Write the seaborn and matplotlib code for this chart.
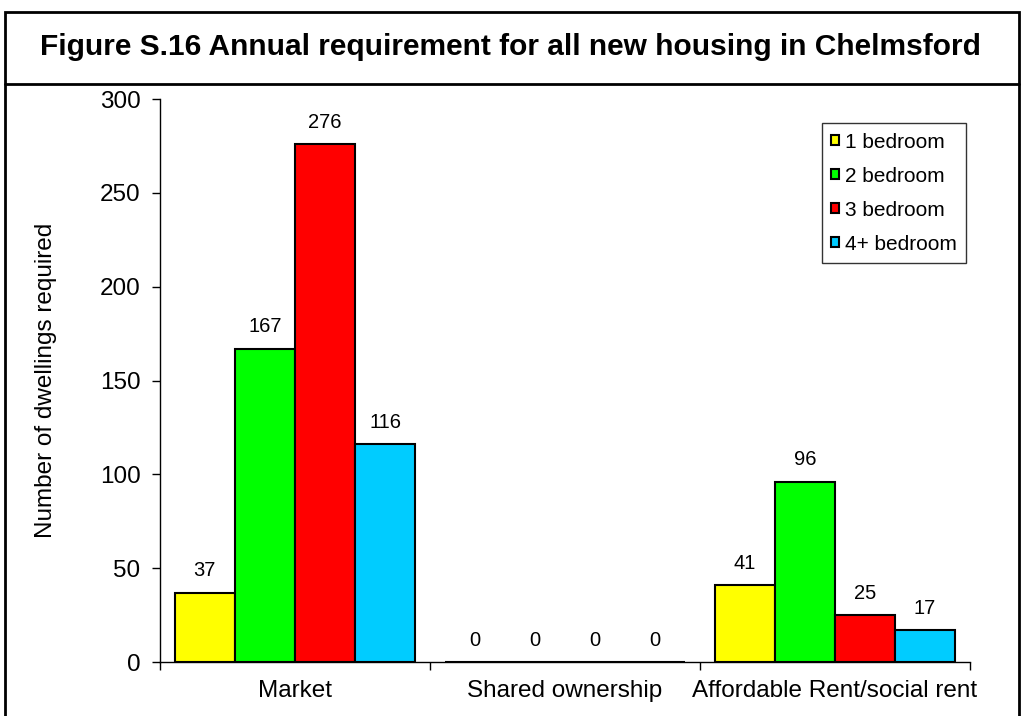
import pandas as pd
import matplotlib
matplotlib.use("Agg")
import matplotlib.pyplot as plt
import seaborn as sns
from matplotlib.patches import Rectangle
from matplotlib.lines import Line2D

# data
tenures = ["Market", "Shared ownership", "Affordable Rent/social rent"]
bedrooms = ["1 bedroom", "2 bedroom", "3 bedroom", "4+ bedroom"]
one_bed = [37, 0, 41]
two_bed = [167, 0, 96]
three_bed = [276, 0, 25]
four_bed = [116, 0, 17]
bar_colours = ["#FFFF00", "#00FF00", "#FF0000", "#00CCFF"]

df = pd.DataFrame({
    "Tenure": tenures * 4,
    "Size": [b for b in bedrooms for _ in tenures],
    "Dwellings": one_bed + two_bed + three_bed + four_bed,
})

sns.set_style("white")
plt.rcParams["font.family"] = ["Liberation Sans", "DejaVu Sans"]
plt.rcParams["text.color"] = "black"
plt.rcParams["axes.labelcolor"] = "black"
plt.rcParams["xtick.color"] = "black"
plt.rcParams["ytick.color"] = "black"

fig = plt.figure(figsize=(10.21, 7.16), dpi=100)
ax = fig.add_axes([0.1567, 0.0754, 0.7933, 0.7863])

sns.barplot(data=df, x="Tenure", y="Dwellings", hue="Size", order=tenures,
            hue_order=bedrooms, palette=bar_colours, width=0.89, gap=0,
            edgecolor="black", linewidth=1.5, saturation=1, ax=ax)

for c in ax.containers:
    ax.bar_label(c, padding=9, fontsize=14.5)

ax.set_ylim(0, 300)
ax.set_xlim(-0.5, 2.5)
ax.set_yticks([0, 50, 100, 150, 200, 250, 300])
ax.tick_params(axis="y", labelsize=17.5, length=6, width=1, direction="out", left=True, pad=8)
ax.tick_params(axis="x", which="major", labelsize=17.5, length=0, pad=13)
ax.set_xticks([0.5, 1.5, 2.5, -0.5], minor=True)
ax.tick_params(axis="x", which="minor", length=6, width=1, direction="out", bottom=True)
for s in ["top", "right"]:
    ax.spines[s].set_visible(False)
for s in ["left", "bottom"]:
    ax.spines[s].set_color("black")
    ax.spines[s].set_linewidth(1)
ax.set_xlabel("")
ax.set_ylabel("Number of dwellings required", fontsize=17.5, labelpad=31)

ax.legend(loc="upper right", bbox_to_anchor=(0.995, 0.957), fontsize=15,
          frameon=True, fancybox=False, edgecolor="black", handlelength=0.4,
          handleheight=0.4, handletextpad=0.25, labelspacing=0.72,
          borderpad=0.45, borderaxespad=0)
leg = ax.get_legend()
leg.get_frame().set_linewidth(1)
for h in leg.legend_handles:
    h.set_edgecolor("black")
    h.set_linewidth(1.5)

# outer frame and title box
fig.patches.append(Rectangle((0.005, -0.05), 0.993, 1.033, transform=fig.transFigure,
                             fill=False, edgecolor="black", linewidth=2))
fig.lines.append(Line2D([0.005, 0.998], [0.883, 0.883], transform=fig.transFigure,
                        color="black", linewidth=2))
fig.text(0.5, 0.934, "Figure S.16 Annual requirement for all new housing in Chelmsford",
         ha="center", va="center", fontsize=21.5, fontweight="bold")

fig.savefig("out.png", dpi=100)
